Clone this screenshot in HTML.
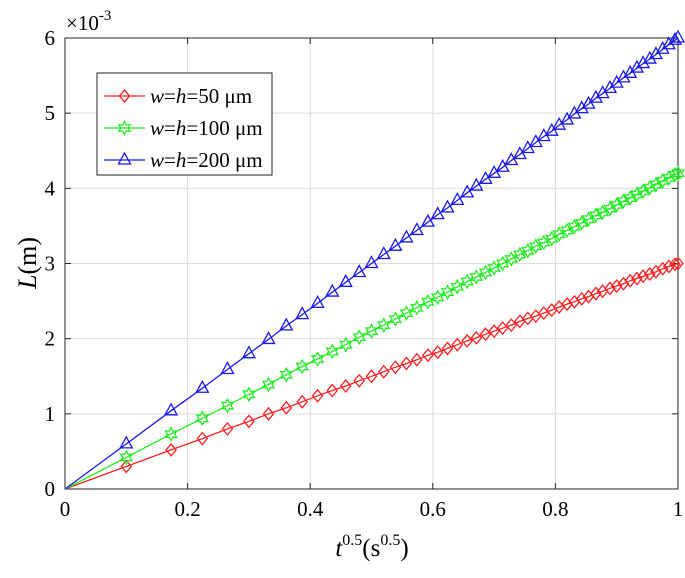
<!DOCTYPE html>
<html><head><meta charset="utf-8"><style>
body{margin:0;background:#fff}
svg{display:block;font-family:"Liberation Serif",serif}
</style></head><body>
<svg id="chart" width="685" height="578" viewBox="0 0 685 578"></svg>
<script>
const xs=[0.100,0.173,0.224,0.265,0.300,0.332,0.361,0.387,0.412,0.436,0.458,0.480,0.500,0.520,0.539,0.557,0.574,0.592,0.608,0.624,0.640,0.656,0.671,0.686,0.700,0.714,0.728,0.742,0.755,0.768,0.781,0.794,0.806,0.819,0.831,0.843,0.854,0.866,0.877,0.889,0.900,0.911,0.922,0.933,0.943,0.954,0.964,0.975,0.985,0.995,1.000];
const red=[0.30,0.52,0.67,0.80,0.90,1.00,1.08,1.16,1.24,1.31,1.37,1.44,1.50,1.56,1.62,1.67,1.72,1.78,1.82,1.87,1.92,1.97,2.01,2.06,2.10,2.14,2.18,2.23,2.27,2.30,2.34,2.38,2.42,2.46,2.49,2.53,2.56,2.60,2.63,2.67,2.70,2.73,2.77,2.80,2.83,2.86,2.89,2.93,2.96,2.99,3.00];
const green=[0.42,0.73,0.94,1.11,1.26,1.39,1.52,1.63,1.73,1.83,1.92,2.02,2.10,2.18,2.26,2.34,2.41,2.49,2.55,2.62,2.69,2.76,2.82,2.88,2.94,3.00,3.06,3.12,3.17,3.23,3.28,3.33,3.39,3.44,3.49,3.54,3.59,3.64,3.68,3.73,3.78,3.83,3.87,3.92,3.96,4.01,4.05,4.10,4.14,4.18,4.20];
const blue=[0.60,1.04,1.34,1.59,1.80,1.99,2.17,2.32,2.47,2.62,2.75,2.88,3.00,3.12,3.23,3.34,3.44,3.55,3.65,3.74,3.84,3.94,4.03,4.12,4.20,4.28,4.37,4.45,4.53,4.61,4.69,4.76,4.84,4.91,4.99,5.06,5.12,5.20,5.26,5.33,5.40,5.47,5.53,5.60,5.66,5.72,5.78,5.85,5.91,5.97,6.00];
const xTicks=[0,0.2,0.4,0.6,0.8,1];
const xTickLabels=["0","0.2","0.4","0.6","0.8","1"];
const yTicks=[0,1,2,3,4,5,6];
const yTickLabels=["0","1","2","3","4","5","6"];

const L=65,R=678,T=38,B=489;
const sx=v=>L+v*(R-L);
const sy=v=>B-v/6*(B-T);
const svg=document.getElementById('chart');
const NS='http://www.w3.org/2000/svg';
function mk(tag,attrs,parent){const e=document.createElementNS(NS,tag);for(const k in attrs)e.setAttribute(k,attrs[k]);(parent||svg).appendChild(e);return e;}

// grid
xTicks.forEach((v,i)=>{
  if(i>0&&i<xTicks.length-1){const g=mk('line',{x1:sx(v),x2:sx(v),y1:T,y2:B,stroke:'#dcdcdc','stroke-width':1});
  
  }
  const t=mk('text',{x:sx(v),y:B+27,'font-size':21,'text-anchor':'middle'});t.textContent=xTickLabels[i];
  
  
  mk('line',{x1:sx(v),x2:sx(v),y1:B,y2:B-6,stroke:'#262626'});
  mk('line',{x1:sx(v),x2:sx(v),y1:T,y2:T+6,stroke:'#262626'});
});
yTicks.forEach((v,i)=>{
  if(i>0&&i<yTicks.length-1){const g=mk('line',{x1:L,x2:R,y1:sy(v),y2:sy(v),stroke:'#dcdcdc','stroke-width':1});
  
  }
  const t=mk('text',{x:L-10,y:sy(v)+7,'font-size':21,'text-anchor':'end'});t.textContent=yTickLabels[i];
  
  
  mk('line',{x1:L,x2:L+6,y1:sy(v),y2:sy(v),stroke:'#262626'});
  mk('line',{x1:R,x2:R-6,y1:sy(v),y2:sy(v),stroke:'#262626'});
});
const box=mk('rect',{x:L,y:T,width:R-L,height:B-T,fill:'none',stroke:'#262626','stroke-width':1});



function marker(type,x,y,c,parent){
  if(type==='d')mk('polygon',{points:`${x},${y-6} ${x+5},${y} ${x},${y+6} ${x-5},${y}`,fill:'none',stroke:c,'stroke-width':1.3},parent);
  else if(type==='t')mk('polygon',{points:`${x},${y-7} ${x+6},${y+4} ${x-6},${y+4}`,fill:'none',stroke:c,'stroke-width':1.3},parent);
  else{let p=[];for(let k=0;k<12;k++){const a=-Math.PI/2+k*Math.PI/6,r=k%2?3.6:6.5;p.push((x+r*Math.cos(a)).toFixed(1)+','+(y+r*Math.sin(a)).toFixed(1));}
    mk('polygon',{points:p.join(' '),fill:'none',stroke:c,'stroke-width':1.3},parent);}
}
function series(ys,c,type,name){
  const g=mk('g',{});
  
  
  let d='M'+sx(0)+','+sy(0);
  xs.forEach((x,i)=>d+=' L'+sx(x).toFixed(1)+','+sy(ys[i]).toFixed(1));
  mk('path',{d:d,fill:'none',stroke:c,'stroke-width':1.3},g);
  xs.forEach((x,i)=>marker(type,sx(x),sy(ys[i]),c,g));
}
series(red,'#ff2020','d','series-w50');
series(green,'#22ee22','s','series-w100');
series(blue,'#1a1aee','t','series-w200');

// legend
const lg=mk('g',{});


mk('rect',{x:97,y:73,width:175,height:102,fill:'#fff',stroke:'#262626'},lg);
const ent=[['#ff2020','d','50'],['#22ee22','s','100'],['#1a1aee','t','200']];
ent.forEach((e,i)=>{
  const y=96+i*32;
  mk('line',{x1:104,x2:145,y1:y,y2:y,stroke:e[0],'stroke-width':1.3},lg);
  marker(e[1],124.5,y,e[0],lg);
  const t=mk('text',{x:150,y:y+7,'font-size':21},lg);
  t.innerHTML='<tspan font-style="italic">w</tspan>=<tspan font-style="italic">h</tspan>='+e[2]+' μm';
  
  
});

// axis titles
const xt=mk('text',{x:372,y:556,'font-size':25,'text-anchor':'middle'});
xt.innerHTML='<tspan font-style="italic">t</tspan><tspan font-size="16" dy="-11">0.5</tspan><tspan dy="11">(s</tspan><tspan font-size="16" dy="-11">0.5</tspan><tspan dy="11">)</tspan>';


const yt=mk('text',{x:0,y:0,'font-size':26,'text-anchor':'middle',transform:'translate(36,263) rotate(-90)'});
yt.innerHTML='<tspan font-style="italic">L</tspan>(m)';


const ex=mk('text',{x:66,y:30,'font-size':21});
ex.innerHTML='×10<tspan font-size="15" dy="-10">-3</tspan>';


</script>
</body></html>
